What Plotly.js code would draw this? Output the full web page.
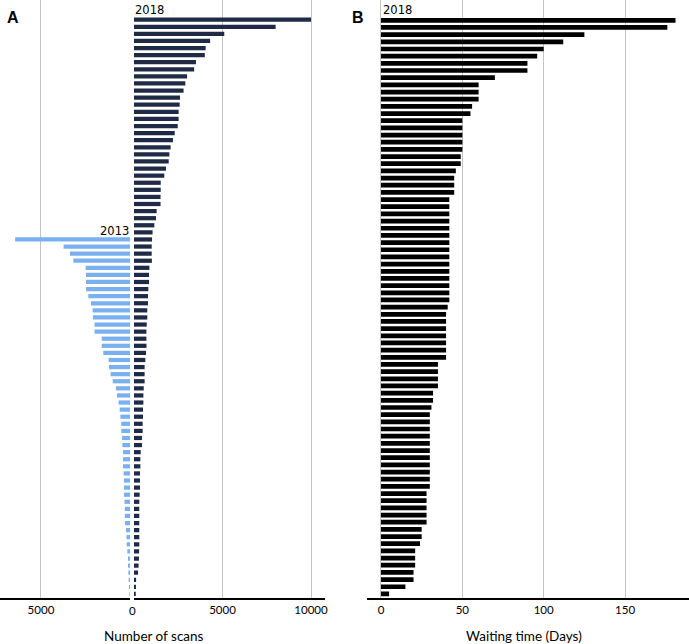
<!DOCTYPE html>
<html>
<head>
<meta charset="utf-8">
<script src="https://cdn.plot.ly/plotly-3.0.1.min.js"></script>
<style>html,body{margin:0;padding:0;background:#fff;}#chart{width:689px;height:644px;}</style>
</head>
<body>
<div id="chart"></div>
<script>
// Panel A: number of scans per provider (ranked), 2018 and 2013
var scans2018 = [10000, 8000, 5100, 4300, 4050, 4000, 3500, 3400, 3000, 2900,
  2800, 2600, 2580, 2520, 2520, 2470, 2300, 2200, 2070, 2000,
  1960, 1810, 1710, 1510, 1510, 1500, 1500, 1280, 1240, 1150,
  1050, 1020, 1000, 1000, 1010, 870, 850, 850, 810, 790,
  790, 750, 750, 720, 700, 700, 705, 680, 640, 600,
  600, 600, 550, 530, 530, 510, 510, 490, 490, 450,
  450, 380, 360, 360, 340, 340, 340, 320, 300, 300,
  300, 300, 300, 300, 300, 290, 280, 260, 230, 120,
  110, 100];
// 2013 values align with the bottom 51 ranks of the 2018 list
var scans2013 = [6450, 3730, 3370, 3180, 2490, 2470, 2470, 2470, 2340, 2190,
  2100, 2080, 1990, 1990, 1590, 1590, 1500, 1200, 1180, 1090,
  970, 790, 730, 640, 580, 540, 490, 490, 450, 430,
  390, 390, 390, 360, 340, 340, 340, 310, 290, 290,
  280, 225, 195, 187, 150, 112, 112, 94, 75, 56,
  37];
// Panel B: waiting time (days), 2018
var waitDays = [181, 176, 125, 112, 100, 96, 90, 90, 70, 60,
  60, 60, 56, 55, 50, 50, 50, 50, 50, 49,
  49, 46, 45, 45, 45, 42, 42, 42, 42, 42,
  42, 42, 42, 42, 42, 42, 42, 42, 42, 42,
  41, 40, 40, 40, 40, 40, 40, 40, 35, 35,
  35, 35, 32, 32, 31, 30, 30, 30, 30, 30,
  30, 30, 30, 30, 30, 30, 28, 28, 28, 28,
  28, 25, 25, 24, 21, 21, 21, 20, 20, 15,
  5];
var tickA = [5000, 10000];
var tickAText = ['5000', '10000'];
var tickB = [0, 50, 100, 150];

var W = 689, H = 644;
function px(x){ return x / W; }
function py(y){ return 1 - y / H; }

var rank2018 = scans2018.map(function(_, i){ return i; });
var offset2013 = scans2018.length - scans2013.length;
var rank2013 = scans2013.map(function(_, i){ return i + offset2013; });
var rankB = waitDays.map(function(_, i){ return i; });

var traces = [
  {type:'bar', orientation:'h', x: scans2013, y: rank2013, xaxis:'x', yaxis:'y',
   marker:{color:'#7bb0f0', line:{width:0}}, width:0.6, hoverinfo:'x'},
  {type:'bar', orientation:'h', x: scans2018, y: rank2018, xaxis:'x2', yaxis:'y',
   marker:{color:'#1f2b46', line:{width:0}}, width:0.6, hoverinfo:'x'},
  {type:'bar', orientation:'h', x: waitDays, y: rankB, xaxis:'x3', yaxis:'y2',
   marker:{color:'#000000', line:{width:0}}, width:0.66, hoverinfo:'x'}
];

var yBottom = 597.5;
var ydom = [(H - yBottom) / H, 1];

var axFont = {family:'Lato, "Open Sans", sans-serif', size:11.5, color:'#000'};
var baseX = {showgrid:true, gridcolor:'#c4c4c4', gridwidth:1, zeroline:false,
  showline:true, linecolor:'#000', linewidth:2.8, ticks:'', tickfont:axFont, fixedrange:true};

var layout = {
  width: W, height: H,
  margin:{l:0, r:0, t:0, b:0},
  paper_bgcolor:'#fff', plot_bgcolor:'#fff',
  showlegend:false,
  xaxis: Object.assign({}, baseX, {domain:[0, px(130)], range:[7300, 0], tickvals:[5000], ticktext:['5000'], anchor:'y'}),
  xaxis2: Object.assign({}, baseX, {domain:[px(134), px(325)], range:[0, 10790], tickvals:tickA, ticktext:tickAText, anchor:'y'}),
  xaxis3: Object.assign({}, baseX, {domain:[px(367), 1], range:[-8.6, 189.3], tickvals:tickB, ticktext:tickB.map(String), anchor:'y2'}),
  yaxis: {domain:ydom, range:[scans2018.length - 0.5, scans2018.length - 0.5 - yBottom / 7.09],
    showticklabels:false, showgrid:false, zeroline:false, showline:false, anchor:'x', fixedrange:true},
  yaxis2: {domain:ydom, range:[waitDays.length - 0.5, waitDays.length - 0.5 - yBottom / 7.17],
    showticklabels:false, showgrid:false, zeroline:false, showline:false, anchor:'x3', fixedrange:true},
  annotations: [
    {text:'<b>A</b>', xref:'paper', yref:'paper', x:px(5), y:py(17), xanchor:'left', yanchor:'middle', showarrow:false,
     font:{family:'"Liberation Sans", Arial, sans-serif', size:16, color:'#000'}},
    {text:'<b>B</b>', xref:'paper', yref:'paper', x:px(350), y:py(17), xanchor:'left', yanchor:'middle', showarrow:false,
     font:{family:'"Liberation Sans", Arial, sans-serif', size:16, color:'#000'}},
    {text:'2018', xref:'paper', yref:'paper', x:px(133), y:py(10), xanchor:'left', yanchor:'middle', showarrow:false,
     font:{family:'"DejaVu Sans", sans-serif', size:11.5, color:'#000'}},
    {text:'2013', xref:'paper', yref:'y', x:px(131), y:offset2013 - 1.25, xanchor:'right', yanchor:'middle', showarrow:false,
     font:{family:'"DejaVu Sans", sans-serif', size:11.5, color:'#000'}},
    {text:'2018', xref:'paper', yref:'paper', x:px(381), y:py(10), xanchor:'left', yanchor:'middle', showarrow:false,
     font:{family:'"DejaVu Sans", sans-serif', size:11.5, color:'#000'}},
    {text:'0', xref:'paper', yref:'paper', x:px(132), y:py(610), xanchor:'center', yanchor:'middle', showarrow:false,
     font:axFont},
    {text:'Number of scans', xref:'paper', yref:'paper', x:px(154), y:py(636), xanchor:'center', yanchor:'middle', showarrow:false,
     font:{family:'Lato, "Open Sans", sans-serif', size:13.5, color:'#000'}},
    {text:'Waiting time (Days)', xref:'paper', yref:'paper', x:px(524), y:py(636), xanchor:'center', yanchor:'middle', showarrow:false,
     font:{family:'Lato, "Open Sans", sans-serif', size:13.5, color:'#000'}}
  ]
};

Plotly.newPlot('chart', traces, layout, {displayModeBar:false, staticPlot:true});
</script>
</body>
</html>
